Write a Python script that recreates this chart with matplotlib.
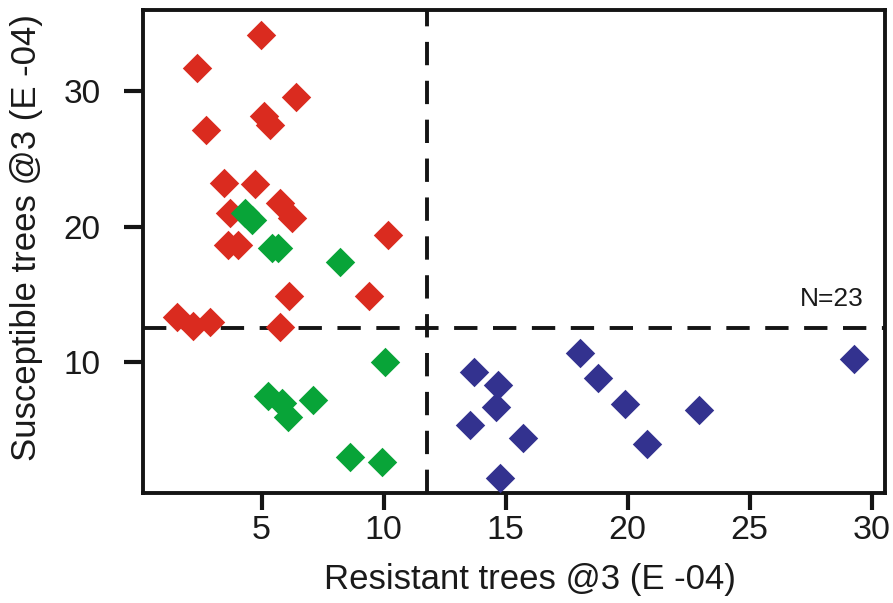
import matplotlib
matplotlib.use("Agg")
import matplotlib.pyplot as plt

plt.rcParams['font.family'] = ['Liberation Sans', 'DejaVu Sans']

# red: susceptible-dominated group
red_x = [4.96, 2.34, 6.39, 5.09, 5.34, 2.72, 3.44, 4.71, 5.75, 6.23,
         3.70, 10.19, 3.63, 4.04, 6.13, 9.41, 1.52, 2.20, 2.88, 5.75]
red_y = [34.1, 31.7, 29.5, 28.1, 27.5, 27.1, 23.2, 23.1, 21.75, 20.6,
         20.97, 19.35, 18.64, 18.64, 14.88, 14.88, 13.36, 12.67, 12.99, 12.62]

# green: low in both
green_x = [4.32, 4.60, 5.41, 5.68, 8.21, 10.05, 5.27, 5.82, 6.09, 7.09, 8.62, 9.92]
green_y = [21.0, 20.5, 18.39, 18.39, 17.41, 10.0, 7.52, 6.98, 5.99, 7.22, 3.05, 2.68]

# blue: resistant-dominated group
blue_x = [13.72, 14.68, 14.61, 13.55, 15.73, 14.76, 18.06, 18.78, 19.91, 20.78, 22.93, 29.27]
blue_y = [9.26, 8.35, 6.72, 5.38, 4.40, 1.48, 10.67, 8.84, 6.91, 4.0, 6.49, 10.25]

x_cut = 11.76
y_cut = 12.55
x_ticks = [5, 10, 15, 20, 25, 30]
y_ticks = [10, 20, 30]

fig = plt.figure(figsize=(8.93, 6.03), dpi=100)
ax = fig.add_axes([0.1601, 0.1824, 0.991 - 0.1601, 0.9834 - 0.1824])

ms = 225
ax.scatter(red_x, red_y, marker='D', s=ms, color='#DA2B1F', linewidths=0, zorder=3)
ax.scatter(green_x, green_y, marker='D', s=ms, color='#08A438', linewidths=0, zorder=3)
ax.scatter(blue_x, blue_y, marker='D', s=ms, color='#33328F', linewidths=0, zorder=3)

ax.axvline(x_cut, color='#141414', lw=2.8, dashes=(6, 4), zorder=2)
ax.axhline(y_cut, color='#141414', lw=2.8, dashes=(6, 4), zorder=2)

ax.text(29.67, 14.7, 'N=23', ha='right', va='center', fontsize=19, color='#1a1a1a')

ax.set_xlim(0.135, 30.55)
ax.set_ylim(0.38, 35.94)
ax.set_xticks(x_ticks)
ax.set_yticks(y_ticks)

for sp in ax.spines.values():
    sp.set_linewidth(2.8)
    sp.set_color('#141414')

ax.tick_params(axis='x', length=12.5, width=3, color='#141414', labelsize=24.5,
               labelcolor='#1a1a1a', pad=3)
ax.tick_params(axis='y', length=13.5, width=3, color='#141414', labelsize=24,
               labelcolor='#1a1a1a', pad=17)

ax.set_xlabel('Resistant trees @3 (E -04)', fontsize=25, color='#1a1a1a')
ax.set_ylabel('Susceptible trees @3 (E -04)', fontsize=25, color='#1a1a1a')
ax.xaxis.label.set_va('center')
ax.yaxis.label.set_va('center')
ax.xaxis.set_label_coords(0.5216, -0.18)
ax.yaxis.set_label_coords(-0.157, 0.529)

fig.savefig('out.png', dpi=100)
